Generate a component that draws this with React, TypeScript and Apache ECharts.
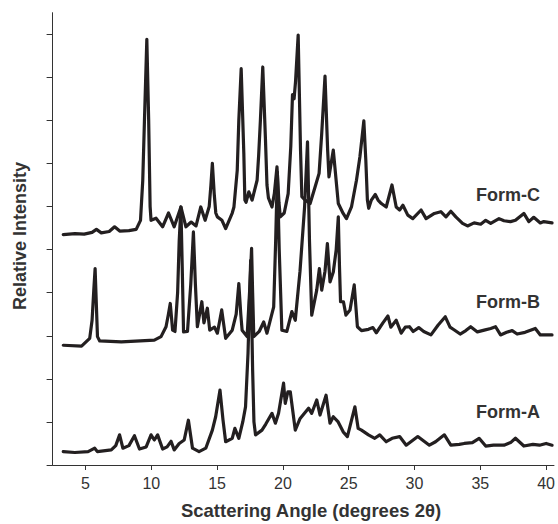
import React, { useEffect, useRef } from "react";
import * as echarts from "echarts";

// x: scattering angle (degrees 2θ), y: relative intensity (offset traces, arbitrary units)
const formC: number[][] = [
  [3.31, 5.35], [4.2, 5.37], [4.9, 5.36], [5.5, 5.4], [5.83, 5.47], [6.2, 5.39], [6.8, 5.42], [7.21, 5.53],
  [7.6, 5.43], [8.3, 5.44], [8.85, 5.47], [9.18, 5.68], [9.35, 6.6], [9.48, 8.0], [9.66, 9.88], [9.8, 8.0],
  [9.91, 6.0], [9.98, 5.68],
  [10.36, 5.73], [10.86, 5.53], [11.31, 5.85], [11.74, 5.53], [12.25, 5.99], [12.63, 5.53], [13.03, 5.64],
  [13.4, 5.55], [13.76, 5.99], [14.09, 5.68], [14.4, 6.0], [14.53, 6.5], [14.64, 7.0], [14.78, 6.3], [14.9, 5.85],
  [15.02, 5.76], [15.37, 5.68], [15.65, 5.49], [16.15, 5.85], [16.28, 5.99], [16.53, 6.84], [16.65, 8.0],
  [16.83, 9.2], [17.03, 7.24], [17.11, 6.15], [17.2, 6.1], [17.41, 6.34], [17.66, 6.15], [18.04, 6.61],
  [18.16, 7.2], [18.29, 8.0], [18.47, 9.24], [18.67, 7.6], [18.79, 6.5], [18.9, 6.2], [19.17, 5.99],
  [19.35, 6.3], [19.55, 6.92], [19.7, 6.1], [19.8, 5.76], [20.1, 5.85], [20.4, 6.3], [20.6, 7.4],
  [20.73, 8.6], [20.85, 8.5], [20.96, 8.9], [21.16, 9.98], [21.34, 7.3], [21.44, 6.23], [21.69, 6.15],
  [22.07, 6.07], [22.45, 6.46], [22.75, 6.77], [22.95, 7.7], [23.2, 9.03], [23.4, 7.31], [23.5, 6.69],
  [23.83, 7.31], [24.21, 6.07], [24.58, 5.84], [24.83, 5.72], [25.21, 5.99], [25.59, 6.61], [25.85, 7.15],
  [26.15, 7.99], [26.3, 7.08], [26.42, 6.15], [26.52, 5.96], [26.72, 6.15], [27.02, 6.28],
  [27.23, 6.15], [27.48, 6.07], [27.85, 5.99], [28.29, 6.5], [28.61, 5.99], [28.87, 5.92], [29.12, 6.03],
  [29.49, 5.8], [29.87, 5.72], [30.5, 5.92], [30.88, 5.72], [31.51, 5.84], [32.0, 5.88], [32.39, 5.76],
  [32.76, 5.89], [33.14, 5.76], [33.65, 5.61], [34.03, 5.55], [34.53, 5.62], [35.03, 5.59], [35.41, 5.68],
  [35.79, 5.61], [36.42, 5.72], [36.8, 5.67], [37.3, 5.65], [37.67, 5.68], [38.31, 5.84], [38.69, 5.65],
  [39.06, 5.75], [39.56, 5.62], [39.82, 5.65], [40.45, 5.62],
];

const formB: number[][] = [
  [3.31, 2.78], [4.7, 2.76], [5.32, 2.94], [5.5, 3.36], [5.63, 4.06], [5.73, 4.56], [5.83, 3.67],
  [5.91, 2.98], [6.08, 2.88],
  [7.72, 2.86], [10.23, 2.9], [10.74, 2.98], [11.12, 3.21], [11.3, 3.5], [11.44, 3.75], [11.62, 3.13],
  [11.8, 3.1], [12.0, 4.0], [12.12, 5.2], [12.25, 5.99], [12.35, 4.6], [12.45, 3.09], [12.75, 3.1],
  [13.0, 4.2], [13.2, 5.41], [13.35, 4.2], [13.5, 3.21], [13.84, 3.79], [14.0, 3.3],
  [14.26, 3.64], [14.44, 3.13], [14.8, 3.2], [15.02, 3.06], [15.35, 3.6], [15.65, 2.94], [16.15, 3.13],
  [16.45, 3.5], [16.65, 4.21], [16.8, 3.5], [16.9, 3.13], [17.28, 2.98], [17.5, 4.2], [17.62, 5.03],
  [17.7, 4.0], [17.79, 2.98], [18.2, 3.1], [18.54, 3.32],
  [18.79, 3.06], [19.3, 3.67], [19.45, 5.2], [19.58, 6.8], [19.72, 5.0], [19.92, 3.13], [20.3, 3.1],
  [20.68, 3.56], [20.94, 3.36], [21.3, 4.5], [21.65, 6.0], [21.87, 7.5], [22.02, 5.2], [22.19, 3.48],
  [22.57, 4.06], [22.77, 4.56], [22.95, 4.06], [23.2, 4.5],
  [23.38, 5.14], [23.58, 4.25], [23.83, 4.48], [24.05, 5.0], [24.21, 5.76], [24.3, 4.6], [24.38, 3.79],
  [24.6, 3.79], [24.79, 3.48], [25.1, 3.6], [25.42, 4.18], [25.66, 3.21], [25.97, 3.12], [26.5, 3.15],
  [26.84, 3.19], [27.1, 3.07], [27.6, 3.3], [27.98, 3.46], [28.2, 3.2], [28.61, 3.36], [28.99, 3.06],
  [29.3, 3.2], [29.62, 3.21], [29.9, 3.1], [30.32, 3.19], [30.7, 3.1], [31.25, 3.02], [31.8, 3.25],
  [32.34, 3.44], [32.7, 3.2], [33.0, 3.14], [33.47, 3.04], [33.9, 3.12], [34.27, 3.21], [34.78, 3.09],
  [35.3, 3.13], [35.79, 3.17], [36.16, 3.21], [36.54, 3.02], [37.0, 3.08], [37.42, 3.12], [37.8, 3.04],
  [38.4, 3.08], [39.18, 3.17], [39.56, 3.02], [40.07, 3.02], [40.45, 3.02],
];

const formA: number[][] = [
  [3.31, 0.31], [4.19, 0.29], [5.2, 0.31], [5.7, 0.39], [5.9, 0.31], [6.96, 0.35], [7.3, 0.45], [7.59, 0.7],
  [7.84, 0.39], [8.3, 0.45], [8.72, 0.68], [9.1, 0.37], [9.61, 0.42], [9.98, 0.7], [10.23, 0.58],
  [10.48, 0.7], [10.86, 0.37], [11.2, 0.42], [11.5, 0.55], [11.74, 0.35], [12.12, 0.5], [12.5, 0.58],
  [12.82, 1.04], [13.13, 0.39], [13.63, 0.31], [14.14, 0.39], [14.64, 0.81], [14.89, 1.12], [15.22, 1.74],
  [15.45, 1.04], [15.65, 0.54], [16.15, 0.62], [16.35, 0.85], [16.65, 0.62], [16.95, 1.0], [17.16, 1.35],
  [17.35, 2.6], [17.55, 4.75], [17.7, 2.2], [17.8, 1.0], [17.92, 0.7], [18.41, 0.81], [18.7, 0.95],
  [19.17, 1.2], [19.43, 0.97],
  [19.67, 1.2], [20.05, 1.9], [20.18, 1.43], [20.38, 1.7], [20.56, 1.7], [20.94, 0.81], [21.31, 1.08],
  [21.95, 1.32], [22.19, 1.2], [22.57, 1.51], [22.82, 1.16], [23.28, 1.62], [23.58, 0.97], [23.83, 1.12],
  [24.2, 1.0], [24.58, 0.77], [24.9, 0.66], [25.47, 1.35], [25.72, 0.85], [25.97, 0.81], [26.5, 0.7],
  [26.98, 0.62], [27.36, 0.7], [27.85, 0.54], [28.3, 0.62], [28.87, 0.66], [29.37, 0.46], [30.25, 0.66],
  [30.6, 0.58], [31.13, 0.46], [31.6, 0.54], [32.27, 0.7], [32.76, 0.46], [33.4, 0.48], [33.78, 0.5],
  [34.4, 0.52], [34.91, 0.62], [35.41, 0.44], [36.0, 0.46], [36.8, 0.46], [37.3, 0.52], [37.67, 0.62],
  [38.31, 0.44], [39.0, 0.48], [39.5, 0.46], [40.0, 0.5], [40.45, 0.46],
];

const xTicks = [5, 10, 15, 20, 25, 30, 35, 40];
const yTicks = [0, 1, 2, 3, 4, 5, 6, 7, 8, 9, 10];
const formNames = ["Form-C", "Form-B", "Form-A"];

const LINE = "#231f20";
const TEXT = "#333333";
const FONT = "'Liberation Sans', Arial, sans-serif";

export default function App() {
  const ref = useRef<HTMLDivElement>(null);
  useEffect(() => {
    if (!ref.current) return;
    const chart = echarts.init(ref.current, null, { renderer: "svg" });
    const series = [formC, formB, formA].map((d, i) => ({
      name: formNames[i],
      type: "line",
      data: d,
      showSymbol: false,
      symbol: "none",
      smooth: false,
      lineStyle: { color: LINE, width: 3.2, join: "round", cap: "round" },
      silent: true,
    }));
    const label = (text: string, y: number) => ({
      type: "text",
      x: 476,
      y,
      style: { text, fill: TEXT, font: `bold 18px ${FONT}`, align: "left", verticalAlign: "middle" },
    });
    chart.setOption({
      animation: false,
      grid: { left: 52.6, right: 1, top: 12.7, bottom: 59, containLabel: false },
      xAxis: {
        type: "value",
        min: 2.5,
        max: 40.6,
        axisLine: { show: true, lineStyle: { color: TEXT, width: 1 } },
        axisTick: { show: true, customValues: xTicks, length: 5, lineStyle: { color: TEXT } },
        axisLabel: {
          show: true,
          customValues: xTicks,
          color: TEXT,
          fontSize: 16,
          fontFamily: FONT,
          margin: 10,
        },
        splitLine: { show: false },
      },
      yAxis: {
        type: "value",
        min: 0,
        max: 10.5,
        axisLine: { show: true, lineStyle: { color: TEXT, width: 1 } },
        axisTick: { show: true, customValues: yTicks, length: 6, lineStyle: { color: TEXT } },
        axisLabel: { show: false },
        splitLine: { show: false },
      },
      graphic: [
        {
          type: "text",
          x: 311,
          y: 510,
          style: {
            text: "Scattering Angle (degrees 2θ)",
            fill: TEXT,
            font: `bold 18.5px ${FONT}`,
            align: "center",
            verticalAlign: "middle",
          },
        },
        {
          type: "text",
          x: 20,
          y: 236,
          rotation: Math.PI / 2,
          style: {
            text: "Relative Intensity",
            fill: TEXT,
            font: `bold 18px ${FONT}`,
            align: "center",
            verticalAlign: "middle",
          },
        },
        label(formNames[0], 195),
        label(formNames[1], 302),
        label(formNames[2], 412),
      ],
      series,
    });
    return () => chart.dispose();
  }, []);
  return (
    <div
      ref={ref}
      style={{ position: "fixed", left: 0, top: 0, width: 558, height: 524, background: "#ffffff" }}
    />
  );
}
